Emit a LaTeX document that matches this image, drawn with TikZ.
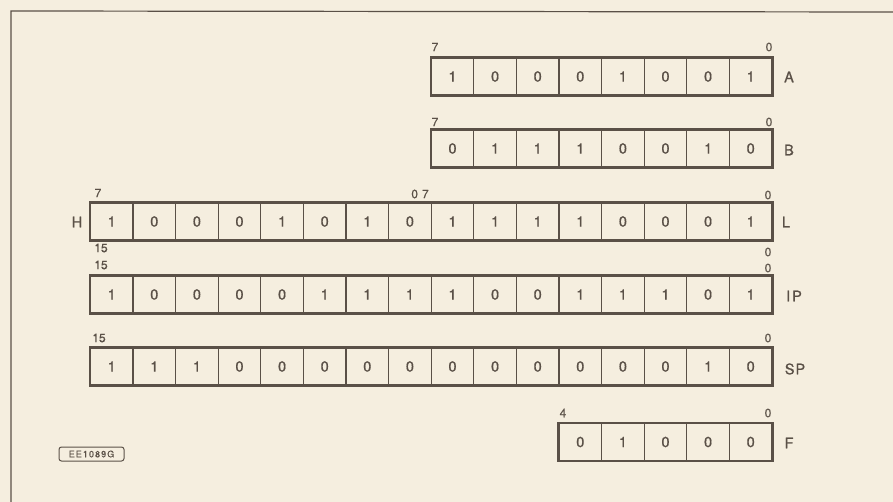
\documentclass[tikz,border=0pt]{standalone}
\usepackage{fontspec}
\setmainfont{TeX Gyre Heros}
\definecolor{bg}{HTML}{F5EEDF}
\definecolor{ink}{HTML}{5A5047}
\tikzset{
  cell/.style={draw=ink, line width=1.3pt, minimum width=42.6pt, minimum height=37pt,
    inner sep=0pt, font=\fontsize{14.5}{14.5}\selectfont\addfontfeatures{FakeBold=0.8}, text=ink},
  idx/.style={text=ink, font=\fontsize{12}{12}\selectfont\addfontfeatures{FakeBold=0.5}, inner sep=0pt},
  reglabel/.style={text=ink, font=\fontsize{14.5}{14.5}\selectfont\addfontfeatures{FakeBold=0.8}, inner sep=0pt},
  outer/.style={draw=ink, line width=2pt},
}
\newcommand\regrow[4]{%
  \foreach \v [count=\i] in {#4} {
    \node[cell] (#1\i) at ({#2+(\i-0.5)*42.6}, #3) {\v};
  }%
}
\begin{document}
\begin{tikzpicture}[x=1pt,y=-1pt]
  \fill[bg] (0,0) rectangle (893,502);
  \useasboundingbox (0,0) rectangle (893,502);
  % frame
  \coordinate (fbl) at (11,502);
  \coordinate (ftl) at (11,11);
  \coordinate (ftr) at (893,12);
  \draw[ink, line width=1.2pt] (fbl) -- (ftl) -- (ftr);

  % A
  \regrow{A}{431.2}{76.5}{1,0,0,0,1,0,0,1}
  \draw[outer] (A1.north west) rectangle (A8.south east);
  \node[idx] (A7lab) at (435,47) {7};
  \node[idx] (A0lab) at (769,47) {0};
  \node[reglabel] (Alab) at (789,77) {A};

  % B
  \regrow{B}{431.2}{148.5}{0,1,1,1,0,0,1,0}
  \draw[outer] (B1.north west) rectangle (B8.south east);
  \node[idx] (B7lab) at (435,122) {7};
  \node[idx] (B0lab) at (769,122) {0};
  \node[reglabel] (Blab) at (789,150) {B};

  % H / L
  \regrow{HL}{90.4}{221.5}{1,0,0,0,1,0,1,0,1,1,1,1,0,0,0,1}
  \draw[outer] (HL1.north west) rectangle (HL16.south east);
  \node[idx] (H7lab) at (98,193) {7};
  \node[idx] (HL07lab) at (420,194) {0\hspace{4pt}7};
  \node[idx] (L0lab) at (768,195) {0};
  \node[reglabel] (Hlab) at (77,222) {H};
  \node[reglabel] (Llab) at (786,222) {L};

  % IP
  \regrow{IP}{90.4}{294.5}{1,0,0,0,0,1,1,1,1,0,0,1,1,1,0,1}
  \draw[outer] (IP1.north west) rectangle (IP16.south east);
  \node[idx] (IP15a) at (101,248) {15};
  \node[idx] (IP15b) at (101,265) {15};
  \node[idx] (IP0a) at (768,252) {0};
  \node[idx] (IP0b) at (768,268) {0};
  \node[reglabel] (IPlab) at (794,296) {I\hspace{2pt}P};

  % SP
  \regrow{SP}{90.4}{366.5}{1,1,1,0,0,0,0,0,0,0,0,0,0,0,1,0}
  \draw[outer] (SP1.north west) rectangle (SP16.south east);
  \node[idx] (SP15) at (99,338) {15};
  \node[idx] (SP0) at (768,338) {0};
  \node[reglabel] (SPlab) at (795,369) {S\hspace{1pt}P};

  % F
  \regrow{F}{559}{442}{0,1,0,0,0}
  \draw[outer] (F1.north west) rectangle (F5.south east);
  \node[idx] (F4lab) at (563,413) {4};
  \node[idx] (F0lab) at (768,413) {0};
  \node[reglabel] (Flab) at (789,443) {F};

  % figure tag
  \node[draw=ink, line width=1pt, rounded corners=2.5pt, text=ink,
        font=\fontsize{9}{9}\selectfont\addfontfeatures{LetterSpace=12,FakeBold=0.5},
        minimum width=65pt, minimum height=14pt, inner sep=1pt] (tag) at (91.5,454) {EE1089G};
\end{tikzpicture}
\end{document}
